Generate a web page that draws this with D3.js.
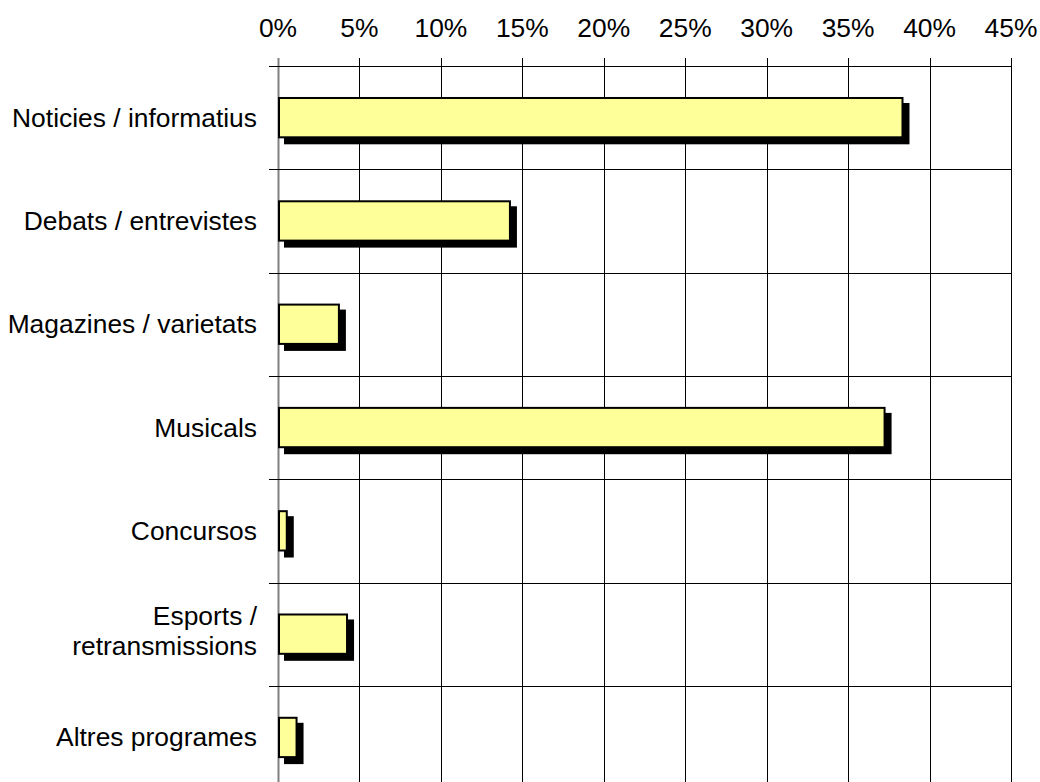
<!DOCTYPE html>
<html><head><meta charset="utf-8">
<script src="https://cdn.jsdelivr.net/npm/d3@7"></script>
<style>body{margin:0;background:#fff}svg{display:block}text{font-family:"Liberation Sans",Arial,sans-serif;fill:#000}</style>
</head><body>
<svg id="c" width="1040" height="782"></svg>
<script>
const categories = ["Noticies / informatius","Debats / entrevistes","Magazines / varietats","Musicals","Concursos","Esports / retransmissions","Altres programes"];
const categoryLines = [["Noticies / informatius"],["Debats / entrevistes"],["Magazines / varietats"],["Musicals"],["Concursos"],["Esports /","retransmissions"],["Altres programes"]];
const values = [38.4, 14.3, 3.8, 37.3, 0.6, 4.3, 1.2];
const ticks = [0,5,10,15,20,25,30,35,40,45];
const tickLabels = ["0%","5%","10%","15%","20%","25%","30%","35%","40%","45%"];

(function(){
const svg = d3.select("#c");
const x = d3.scaleLinear().domain([0,45]).range([278,1011]);
const plotTop = 66, step = 103.3;
const y = d3.scaleBand().domain(categories).range([plotTop, plotTop+step*categories.length]).paddingInner(0.6).paddingOuter(0.3);

svg.append("g").selectAll("line").data(ticks).join("line")
  .attr("x1",d=>Math.round(x(d))+0.5).attr("x2",d=>Math.round(x(d))+0.5)
  .attr("y1",58).attr("y2",800)
  .attr("stroke",(d,i)=>i===0?"#808080":"#000").attr("stroke-width",(d,i)=>i===0?2:1);
const bounds = d3.range(categories.length+1).map(i=>plotTop+i*step);
svg.append("g").selectAll("line").data(bounds).join("line")
  .attr("x1",269).attr("x2",1012)
  .attr("y1",d=>Math.round(d)+0.5).attr("y2",d=>Math.round(d)+0.5)
  .attr("stroke","#000").attr("stroke-width",1);

svg.append("g").selectAll("text").data(ticks).join("text")
  .attr("x",d=>x(d)).attr("y",37).attr("text-anchor","middle")
  .style("font-size","26.4px").text((d,i)=>tickLabels[i]);

const g = svg.append("g");
const data = categories.map((c,i)=>({c,v:values[i],lines:categoryLines[i]}));
g.selectAll("rect.sh").data(data).join("rect").attr("class","sh")
  .attr("x",x(0)+6).attr("y",d=>y(d.c)+6)
  .attr("width",d=>x(d.v)-x(0)).attr("height",y.bandwidth())
  .attr("fill","#000");
g.selectAll("rect.b").data(data).join("rect").attr("class","b")
  .attr("x",x(0)+1).attr("y",d=>y(d.c)+1)
  .attr("width",d=>Math.max(0,x(d.v)-x(0)-2)).attr("height",y.bandwidth()-2)
  .attr("fill","#FFFF99").attr("stroke","#000").attr("stroke-width",2);

const lab = svg.append("g");
data.forEach(d=>{
  const cy = y(d.c)+y.bandwidth()/2;
  const n = d.lines.length, lh = 30;
  const off = n > 1 ? 6 : 9;
  d.lines.forEach((t,j)=>{
    lab.append("text").attr("x",257).attr("y",cy+(j-(n-1)/2)*lh+off)
      .attr("text-anchor","end").style("font-size","26.4px").text(t);
  });
});
})();
</script>
</body></html>
